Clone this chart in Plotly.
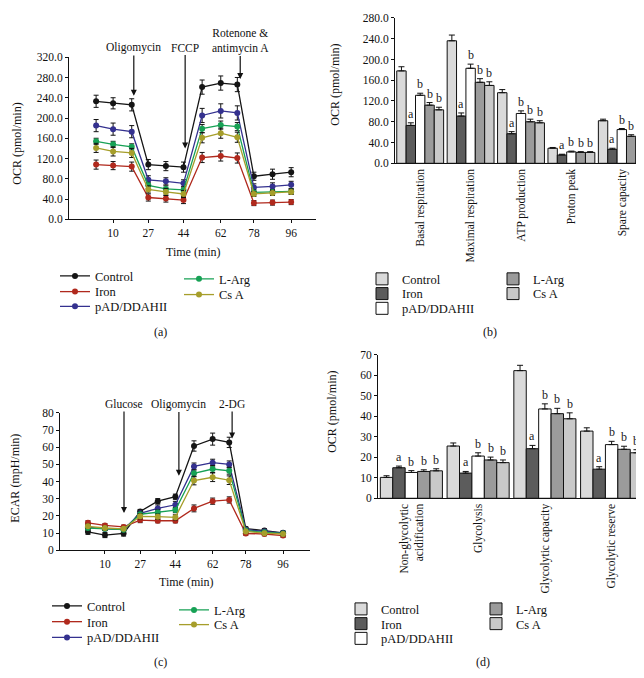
import plotly.graph_objects as go

FONT = "Liberation Serif"
W, H = 644, 678

# ---------------- data ----------------
times = [1.8, 10, 19, 27, 35.5, 44, 53, 62, 70, 78, 87, 96]
time_ticks = [10, 27, 44, 62, 78, 96]
groups = ["Control", "Iron", "pAD/DDAHII", "L-Arg", "Cs A"]

ocr_control = [233, 229, 226, 108, 105, 103, 261, 269, 266, 85, 89, 93]
ocr_iron = [108, 106, 104, 43, 41, 38, 122, 125, 121, 32, 33, 34]
ocr_pad = [185, 178, 173, 78, 75, 71, 205, 214, 210, 63, 65, 68]
ocr_larg = [154, 148, 143, 67, 60, 58, 179, 186, 183, 53, 54, 55]
ocr_csa = [141, 134, 131, 59, 54, 50, 161, 170, 162, 50, 52, 54]
ocr_control_err = [12, 11, 12, 10, 9, 10, 14, 14, 14, 8, 10, 9]
ocr_iron_err = [9, 8, 9, 7, 7, 7, 10, 10, 10, 5, 5, 5]
ocr_pad_err = [12, 12, 12, 8, 7, 7, 14, 14, 14, 7, 7, 7]
ocr_larg_err = [6, 6, 6, 6, 6, 6, 8, 8, 8, 5, 5, 5]
ocr_csa_err = [9, 9, 9, 7, 7, 7, 10, 10, 10, 5, 5, 5]

ecar_control = [10.8, 8.9, 9.8, 22.6, 28.6, 31.2, 60.7, 64.7, 62.8, 12.6, 11.5, 10.2]
ecar_iron = [16, 14.5, 13.6, 17.6, 17.2, 17.2, 24.4, 28.6, 29.3, 9.8, 9.5, 8.6]
ecar_pad = [13.5, 12.5, 12.2, 21.5, 24.4, 26.5, 48.8, 51, 50, 12, 11, 10]
ecar_larg = [13, 12.5, 12, 21, 22, 23.4, 44.8, 47.3, 46.3, 11.5, 10.5, 9.8]
ecar_csa = [14, 13, 12.5, 19.8, 19.6, 19.2, 40.6, 42.5, 40.8, 11, 10, 9.5]
ecar_control_err = [1.5, 1.5, 1.5, 1.2, 1.5, 1.5, 3, 3.5, 3, 1, 1, 1]
ecar_iron_err = [1.2, 1, 1, 1.5, 1.2, 1.2, 2, 1.8, 1.8, 1, 1, 1]
ecar_pad_err = [1.2, 1, 1, 1.5, 2, 2, 2, 2, 2, 1, 1, 1]
ecar_larg_err = [1.2, 1, 1, 1.5, 1.5, 1.5, 2, 2, 2, 1, 1, 1]
ecar_csa_err = [1.2, 1, 1, 1.5, 1.5, 1.5, 2.5, 2.5, 2.5, 1, 1, 1]

cats_b = ["Basal respiration", "Maximal respiration", "ATP production",
          "Proton peak", "Spare capacity"]
b_control = [178, 236, 136, 29, 82]
b_iron = [73, 91, 57, 16, 27]
b_pad = [131, 183, 96, 22, 65]
b_larg = [112, 156, 80, 21, 52]
b_csa = [103, 150, 78, 21, 50]
b_control_err = [8, 11, 6, 1.5, 3]
b_iron_err = [5, 6, 4, 1.5, 2]
b_pad_err = [4, 8, 5, 1.5, 2]
b_larg_err = [5, 7, 5, 1.5, 3]
b_csa_err = [5, 7, 4, 1.5, 3]
b_letters = [["", "a", "b", "b", "b"]] * 5

cats_d = ["Non-glycolytic<br>acidification", "Glycolysis",
          "Glycolytic capacity", "Glycolytic reserve"]
d_control = [10.2, 25.5, 62.3, 32.8]
d_iron = [14.9, 12.3, 24.2, 14.2]
d_pad = [12.6, 20.6, 43.6, 26.2]
d_larg = [13.1, 18.7, 41.3, 23.9]
d_csa = [13.4, 17.4, 38.8, 22.2]
d_control_err = [0.8, 1.5, 2.6, 1.6]
d_iron_err = [0.8, 0.8, 1.6, 1.2]
d_pad_err = [0.9, 1.6, 2.5, 1.6]
d_larg_err = [0.8, 1.4, 2.6, 1.5]
d_csa_err = [1.0, 1.3, 2.9, 1.5]
d_letters = [["", "a", "b", "b", "b"]] * 4

# ---------------- styles ----------------
line_colors = ["#151515", "#b0291d", "#34318f", "#17a155", "#a69e2b"]
bar_colors = ["#dadada", "#5c5c5c", "#ffffff", "#9b9b9b", "#c9c9c9"]
BARGAP = 0.07


def px_x(p):
    return p / W


def px_y(p):
    return 1 - p / H


# legend slot (pixel x of legend box, pixel y of item centre) per panel / group
legend_pos = {
    "a": [(47, 267), (47, 283), (47, 298), (171, 270), (171, 286)],
    "c": [(39, 603), (39, 619), (39, 635), (166, 607), (166, 622)],
    "b": [(354, 270), (354, 285), (354, 300), (485, 270), (485, 285)],
    "d": [(333, 606), (333, 621), (333, 636), (468, 606), (468, 621)],
}
legend_names = {}
legends = {}
legend_common = dict(font=dict(family=FONT, size=12.5, color="#111"),
                     bgcolor="rgba(0,0,0,0)", itemwidth=30, xanchor="left",
                     yanchor="middle", tracegroupgap=0)
k = 0
for panel in ["a", "b", "c", "d"]:
    for i, (xp, yp) in enumerate(legend_pos[panel]):
        k += 1
        name = "legend" if k == 1 else f"legend{k}"
        legend_names[(panel, i)] = name
        legends[name] = dict(x=px_x(xp), y=px_y(yp), **legend_common)

fig = go.Figure()

ocr_series = [ocr_control, ocr_iron, ocr_pad, ocr_larg, ocr_csa]
ocr_errs = [ocr_control_err, ocr_iron_err, ocr_pad_err, ocr_larg_err, ocr_csa_err]
ecar_series = [ecar_control, ecar_iron, ecar_pad, ecar_larg, ecar_csa]
ecar_errs = [ecar_control_err, ecar_iron_err, ecar_pad_err, ecar_larg_err, ecar_csa_err]

for i, g in enumerate(groups):
    for panel, xa, ya, ys, es in [("a", "x", "y", ocr_series[i], ocr_errs[i]),
                                  ("c", "x3", "y3", ecar_series[i], ecar_errs[i])]:
        fig.add_trace(go.Scatter(
            x=times, y=ys, xaxis=xa, yaxis=ya, name=g,
            legend=legend_names[(panel, i)],
            mode="lines+markers",
            line=dict(color=line_colors[i], width=1.3),
            marker=dict(color=line_colors[i], size=6),
            error_y=dict(type="data", array=es, color="#111", thickness=1, width=2.5),
        ))

b_series = [b_control, b_iron, b_pad, b_larg, b_csa]
b_errs = [b_control_err, b_iron_err, b_pad_err, b_larg_err, b_csa_err]
d_series = [d_control, d_iron, d_pad, d_larg, d_csa]
d_errs = [d_control_err, d_iron_err, d_pad_err, d_larg_err, d_csa_err]

for i, g in enumerate(groups):
    for panel, xa, ya, cats, ys, es in [("b", "x2", "y2", cats_b, b_series[i], b_errs[i]),
                                        ("d", "x4", "y4", cats_d, d_series[i], d_errs[i])]:
        fig.add_trace(go.Bar(
            x=cats, y=ys, xaxis=xa, yaxis=ya, name=g,
            legend=legend_names[(panel, i)],
            marker=dict(color=bar_colors[i], line=dict(color="#111", width=1)),
            error_y=dict(type="data", array=es, arrayminus=[0] * len(es),
                         symmetric=False, color="#111", thickness=1, width=3),
        ))

annotations = []
bw = (1 - BARGAP) / 5
for xa, ya, series, errs, letters in [("x2", "y2", b_series, b_errs, b_letters),
                                      ("x4", "y4", d_series, d_errs, d_letters)]:
    for gi in range(len(series[0])):
        for i in range(5):
            t = letters[gi][i]
            if not t:
                continue
            annotations.append(dict(
                x=gi + (i - 2) * bw, y=series[i][gi] + errs[i][gi], xref=xa, yref=ya,
                text=t, showarrow=False, yanchor="bottom", yshift=0,
                font=dict(family=FONT, size=12, color="#222")))

# injection arrows
arrow_common = dict(showarrow=True, arrowhead=2, arrowsize=1, arrowwidth=1.2,
                    arrowcolor="#111", font=dict(family=FONT, size=11.5, color="#111"))
for txt, xv, tip, tail in [("Oligomycin", 20, 244, 339),
                           ("FCCP", 44.8, 140, 339),
                           ("Rotenone &amp;<br>antimycin A", 71.4, 277, 353)]:
    annotations.append(dict(x=xv, y=tip, ax=xv, ay=tail, xref="x", yref="y",
                            axref="x", ayref="y", text=txt, **arrow_common))
for txt, xv, tip, tail in [("Glucose", 19.2, 21.7, 85.1),
                           ("Oligomycin", 45.7, 43.4, 85.1),
                           ("2-DG", 71.4, 65.1, 85.1)]:
    annotations.append(dict(x=xv, y=tip, ax=xv, ay=tail, xref="x3", yref="y3",
                            axref="x3", ayref="y3", text=txt, **arrow_common))

# axis titles & panel labels
txt_font = dict(family=FONT, size=12, color="#111")
for txt, xp, yp, ang in [("OCR (pmol/min)", 9, 132, -90),
                         ("OCR (pmol/min)", 327, 72, -90),
                         ("ECAR (mpH/min)", 7, 473, -90),
                         ("OCR (pmol/min)", 324, 405, -90),
                         ("Time (min)", 185, 242, 0),
                         ("Time (min)", 178, 578, 0),
                         ("(a)", 152, 324, 0), ("(b)", 482, 324, 0),
                         ("(c)", 152, 660, 0), ("(d)", 475, 660, 0)]:
    annotations.append(dict(x=px_x(xp), y=px_y(yp), xref="paper", yref="paper",
                            text=txt, showarrow=False, textangle=ang,
                            xanchor="center", yanchor="middle", font=txt_font))

tick_font = dict(family=FONT, size=11.5, color="#111")
axis_common = dict(showline=True, linecolor="#111", linewidth=1, showgrid=False,
                   zeroline=False, tickfont=tick_font, ticks="outside",
                   ticklen=3, tickcolor="#111")

fig.update_layout(
    width=W, height=H, margin=dict(l=0, r=0, t=0, b=0),
    paper_bgcolor="white", plot_bgcolor="white",
    barmode="group", bargap=BARGAP, bargroupgap=0,
    font=dict(family=FONT, color="#111"),
    showlegend=True,
    xaxis=dict(domain=[px_x(61), px_x(308)], range=[-11.3, 108],
               tickvals=time_ticks, anchor="y", **axis_common),
    yaxis=dict(domain=[px_y(209), px_y(44)], range=[0, 320], dtick=40,
               tickformat=".1f", anchor="x", **axis_common),
    xaxis2=dict(domain=[px_x(387), px_x(639)], type="category", anchor="y2",
                tickangle=-90, **{**axis_common, "ticks": ""}),
    yaxis2=dict(domain=[px_y(152), px_y(4)], range=[0, 280], dtick=40,
                tickformat=".1f", anchor="x2", **axis_common),
    xaxis3=dict(domain=[px_x(52), px_x(302)], range=[-11.7, 109],
                tickvals=time_ticks, anchor="y3", **axis_common),
    yaxis3=dict(domain=[px_y(546), px_y(406)], range=[0, 80], dtick=10,
                anchor="x3", **axis_common),
    xaxis4=dict(domain=[px_x(370), px_x(637)], type="category", anchor="y4",
                tickangle=-90, **{**axis_common, "ticks": ""}),
    yaxis4=dict(domain=[px_y(493), px_y(347)], range=[0, 70], dtick=10,
                anchor="x4", **axis_common),
    annotations=annotations,
    **legends,
)

fig.write_html("out.html")
